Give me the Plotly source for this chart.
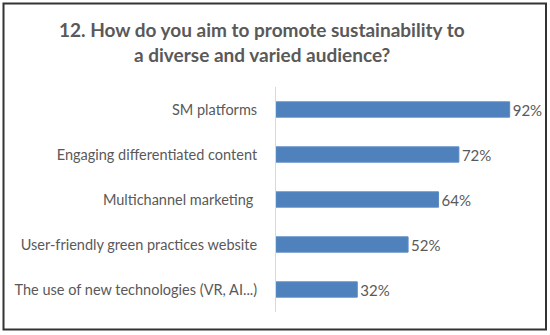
import plotly.graph_objects as go

categories = [
    "SM platforms",
    "Engaging differentiated content",
    "Multichannel marketing ",
    "User-friendly green practices website",
    "The use of new technologies (VR, AI...)",
]
values = [92, 72, 64, 52, 32]
labels = [f"{v}%" for v in values]
title_lines = ["12. How do you aim to promote sustainability to", "a diverse and varied audience?"]

# plot area geometry (pixels)
L, R, T, B = 276, 20, 87, 23
W, H = 550, 335
pw, ph = W - L - R, H - T - B

def px_x(x):
    return (x - L) / pw

def px_y(y):
    return (H - B - y) / ph

FONT = "Lato"
GRAY = "#595959"

fig = go.Figure(
    go.Bar(
        x=values,
        y=categories,
        orientation="h",
        text=labels,
        textposition="outside",
        cliponaxis=False,
        constraintext="none",
        textfont=dict(family=FONT, size=15, color=GRAY),
        marker=dict(color="#4F81BD", line=dict(color="#5B8BC6", width=1)),
        width=0.34,
    )
)

fig.update_layout(
    width=W,
    height=H,
    margin=dict(l=L, r=R, t=T, b=B, pad=0),
    paper_bgcolor="white",
    plot_bgcolor="white",
    showlegend=False,
    bargap=0.66,
    font=dict(family=FONT, color=GRAY),
    xaxis=dict(range=[0, 100], visible=False, fixedrange=True),
    yaxis=dict(
        autorange="reversed",
        showline=True,
        linecolor="#D9D9D9",
        linewidth=1,
        ticks="",
        ticklabelstandoff=15,
        tickfont=dict(family=FONT, size=14.5, color=GRAY),
        showgrid=False,
        zeroline=False,
    ),
)

fig.add_annotation(
    x=px_x(262), y=px_y(30), xref="paper", yref="paper",
    text=f"<b>{title_lines[0]}</b>", showarrow=False,
    font=dict(family=FONT, size=19, color=GRAY), xanchor="center", yanchor="middle",
)
fig.add_annotation(
    x=px_x(262), y=px_y(55), xref="paper", yref="paper",
    text=f"<b>{title_lines[1]}</b>", showarrow=False,
    font=dict(family=FONT, size=19, color=GRAY), xanchor="center", yanchor="middle",
)

fig.add_shape(
    type="rect", xref="paper", yref="paper",
    x0=px_x(3.5), x1=px_x(546), y0=px_y(329.5), y1=px_y(3.5),
    line=dict(color="#333333", width=2), fillcolor="rgba(0,0,0,0)", layer="above",
)

fig.write_html(
    "out.html",
    config={"displayModeBar": False},
    post_script="document.body.style.margin='0';document.body.style.overflow='hidden';",
)
